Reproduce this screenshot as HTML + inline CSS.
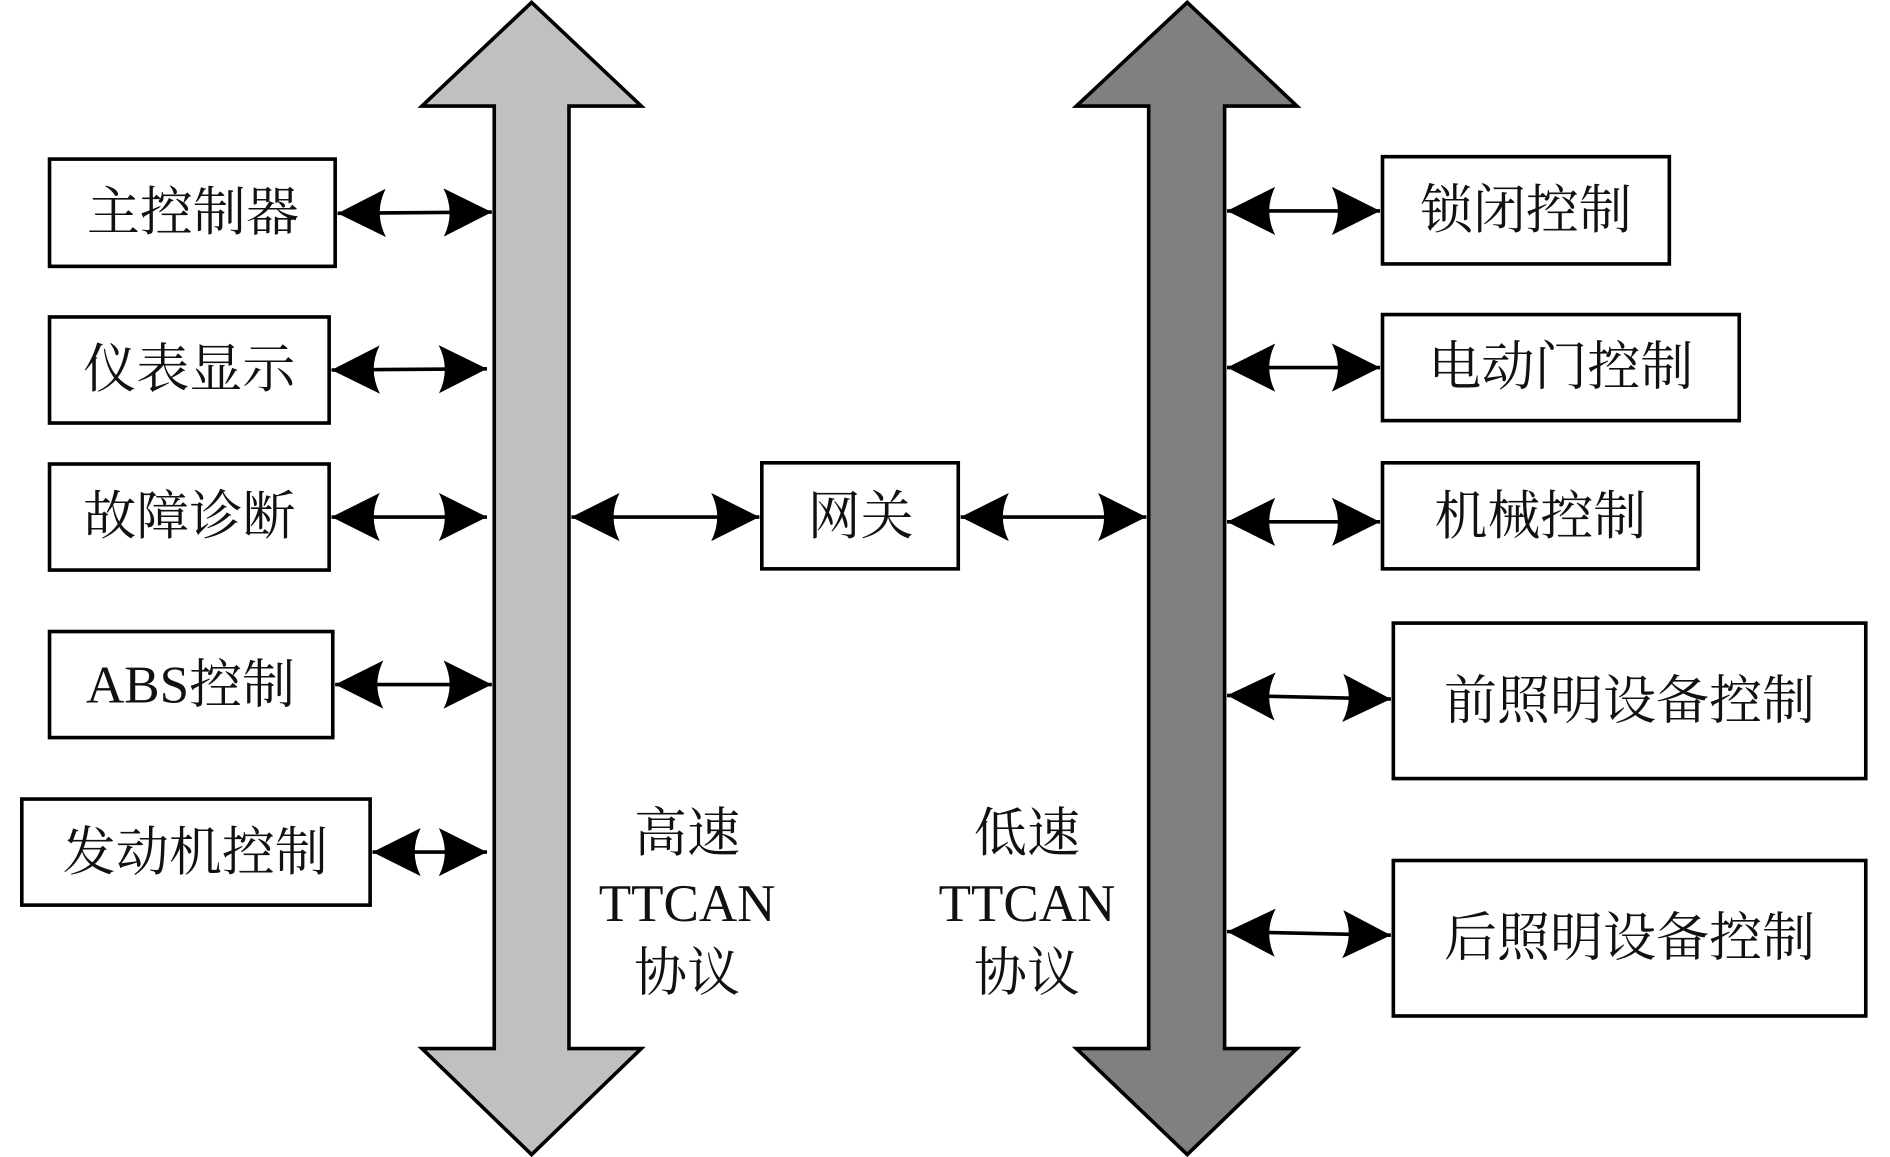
<!DOCTYPE html>
<html><head><meta charset="utf-8"><style>
html,body{margin:0;padding:0;background:#fff;}
svg{display:block}
text{font-family:"Liberation Serif","Noto Serif CJK SC","Noto Sans CJK SC",serif;fill:#111;}
</style></head><body>
<svg width="1890" height="1157" viewBox="0 0 1568 960" xmlns="http://www.w3.org/2000/svg">
<defs>
<marker id="ah" viewBox="0 0 20 20" refX="19" refY="10" markerWidth="20" markerHeight="20" markerUnits="userSpaceOnUse" orient="auto-start-reverse">
<path d="M0,0 L20,10 L0,20 Q6,10 0,0 Z" fill="#000"/>
</marker>
<marker id="ah2" viewBox="0 0 40 40" refX="40" refY="20" markerWidth="40" markerHeight="40" markerUnits="userSpaceOnUse" orient="auto-start-reverse">
<path d="M0,0 L40,20 L0,40 Q10,20 0,0 Z" fill="#000"/>
</marker>
</defs>
<!-- buses -->
<polygon points="441,2 532,88 472,88 472,870 532,870 441,958 350,870 410,870 410,88 350,88" fill="#c0c0c0" stroke="#000" stroke-width="3" stroke-linejoin="miter"/>
<polygon points="985,2 1076,88 1016,88 1016,870 1076,870 985,958 893,870 953,870 953,88 893,88" fill="#808080" stroke="#000" stroke-width="3"/>
<g fill="#fff" stroke="#000" stroke-width="3">
<rect x="41" y="132" width="237" height="89"/>
<rect x="41" y="263" width="232" height="88"/>
<rect x="41" y="385" width="232" height="88"/>
<rect x="41" y="524" width="235" height="88"/>
<rect x="18" y="663" width="289" height="88"/>
<rect x="632" y="384" width="163" height="88"/>
<rect x="1147" y="130" width="238" height="89"/>
<rect x="1147" y="261" width="296" height="88"/>
<rect x="1147" y="384" width="262" height="88"/>
<rect x="1156" y="517" width="392" height="129"/>
<rect x="1156" y="714" width="392" height="129"/>
</g>
<g stroke="#000" stroke-width="3" marker-start="url(#ah2)" marker-end="url(#ah2)">
<line x1="280" y1="177" x2="408" y2="176"/>
<line x1="275" y1="307" x2="404" y2="306"/>
<line x1="275" y1="429" x2="404" y2="429"/>
<line x1="278" y1="568" x2="408" y2="568"/>
<line x1="309" y1="707" x2="404" y2="707"/>
<line x1="474" y1="429" x2="630" y2="429"/>
<line x1="797" y1="429" x2="951" y2="429"/>
<line x1="1018" y1="175" x2="1145" y2="175"/>
<line x1="1018" y1="305" x2="1145" y2="305"/>
<line x1="1018" y1="433" x2="1145" y2="433"/>
<line x1="1018" y1="577" x2="1154" y2="580"/>
<line x1="1018" y1="773" x2="1154" y2="776"/>
</g>
<g font-size="44">
<text x="160" y="191" text-anchor="middle">主控制器</text>
<text x="157" y="321" text-anchor="middle">仪表显示</text>
<text x="157" y="443" text-anchor="middle">故障诊断</text>
<text x="158" y="583" text-anchor="middle">ABS控制</text>
<text x="162" y="722" text-anchor="middle">发动机控制</text>
<text x="714" y="443" text-anchor="middle">网关</text>
<text x="1266" y="189" text-anchor="middle">锁闭控制</text>
<text x="1295" y="319" text-anchor="middle">电动门控制</text>
<text x="1278" y="443" text-anchor="middle">机械控制</text>
<text x="1352" y="596" text-anchor="middle">前照明设备控制</text>
<text x="1352" y="793" text-anchor="middle">后照明设备控制</text>
<text x="570" y="706" text-anchor="middle">高速</text>
<text x="570" y="764" text-anchor="middle">TTCAN</text>
<text x="570" y="822" text-anchor="middle">协议</text>
<text x="852" y="706" text-anchor="middle">低速</text>
<text x="852" y="764" text-anchor="middle">TTCAN</text>
<text x="852" y="822" text-anchor="middle">协议</text>
</g>
</svg>
</body></html>
